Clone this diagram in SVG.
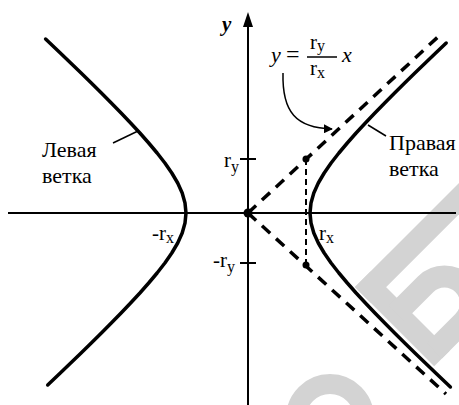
<svg xmlns="http://www.w3.org/2000/svg" width="459" height="405" viewBox="0 0 459 405">
<style>
.t{font-family:"Liberation Serif","Times New Roman",serif;fill:#000}
.lbl{font-size:22px}
.ax{font-size:21px}
.sub{font-size:16px}
.curve{fill:none;stroke:#000;stroke-width:3.5;stroke-linejoin:round;stroke-linecap:round}
.asym{fill:none;stroke:#000;stroke-width:3.5;stroke-dasharray:11 8}
.thin{fill:none;stroke:#000;stroke-width:1.5}
.axis{fill:none;stroke:#000;stroke-width:2}
.wm{fill:none;stroke:#d3d3d3}
</style>
<defs>
<marker id="ah" viewBox="0 0 10 10" refX="9" refY="5" markerWidth="9" markerHeight="9" markerUnits="userSpaceOnUse" orient="auto">
<path d="M0,0 L10,5 L0,10 z" fill="#000"/>
</marker>
</defs>
<rect width="459" height="405" fill="#fff"/>
<g id="watermark">
<g transform="rotate(-45)">
<rect x="48" y="454" width="160" height="22" fill="#d3d3d3"/>
<rect x="48" y="454" width="22" height="112" fill="#d3d3d3"/>
<path class="wm" stroke-width="22" d="M59,502 H100 A26.5,26.5 0 0 1 100,555 H59"/>
</g>
<circle class="wm" cx="330" cy="418" r="34" stroke-width="20"/>
</g>
<g id="axes">
<line class="axis" x1="8" y1="213" x2="456" y2="213"/>
<line class="axis" x1="248" y1="405" x2="248" y2="24"/>
<path d="M248,12 L243,27 L253,27 z" fill="#000"/>
<line class="axis" x1="240" y1="159" x2="256" y2="159"/>
<line class="axis" x1="240" y1="263" x2="256" y2="263"/>
</g>
<g id="connectors">
<line class="asym" x1="248" y1="213" x2="440" y2="35"/>
<line class="asym" x1="248" y1="213" x2="446" y2="394"/>
<line fill="none" stroke="#000" stroke-width="2" stroke-dasharray="6 4" x1="306" y1="159" x2="306" y2="265"/>
<path class="thin" d="M283,73 C282,112 296,128 332,129" marker-end="url(#ah)"/>
<line class="thin" x1="113" y1="143" x2="138" y2="131"/>
<line class="thin" x1="368" y1="125" x2="386" y2="136"/>
</g>
<g id="right-branch">
<polyline class="curve" points="446.2,43 435.7,53 425.3,63 414.9,73 404.7,83 394.6,93 384.7,103 374.9,113 365.4,123 356.1,133 347.3,143 338.9,153 331.1,163 324.2,173 318.3,183 313.8,193 311,203 310,213 311,223 313.8,233 318.3,243 324.2,253 331.1,263 338.9,273 347.3,283 356.1,293 365.4,303 374.9,313 384.7,323 394.6,333 404.7,343 414.9,353 425.3,363 435.7,373 446.2,383 450.4,387"/>
</g>
<g id="left-branch">
<polyline class="curve" points="45.6,39 49.8,43 60.3,53 70.7,63 81.1,73 91.3,83 101.4,93 111.3,103 121.1,113 130.6,123 139.9,133 148.7,143 157.1,153 164.9,163 171.8,173 177.7,183 182.2,193 185,203 186,213 185,223 182.2,233 177.7,243 171.8,253 164.9,263 157.1,273 148.7,283 139.9,293 130.6,303 121.1,313 111.3,323 101.4,333 91.3,343 81.1,353 70.7,363 60.3,373 49.8,383 47.7,385"/>
</g>
<g id="points">
<circle cx="248" cy="213" r="4.5" fill="#000"/>
<circle cx="306" cy="159" r="3.5" fill="#000"/>
<circle cx="306" cy="265" r="3.5" fill="#000"/>
</g>
<g id="labels">
<text class="t" x="222" y="31" font-size="21" font-weight="bold" font-style="italic">y</text>
<text class="t" x="271" y="62" font-size="22" font-style="italic">y</text>
<text class="t" x="286" y="62" font-size="24">=</text>
<text class="t ax" x="310" y="49">r<tspan class="sub" dy="2">y</tspan></text>
<line x1="307" y1="57" x2="337" y2="57" stroke="#000" stroke-width="1.5"/>
<text class="t ax" x="310" y="75">r<tspan class="sub" dy="3">x</tspan></text>
<text class="t" x="342" y="62" font-size="22" font-style="italic">x</text>
<text class="t ax" x="224" y="167">r<tspan class="sub" dy="5">y</tspan></text>
<text class="t ax" x="213" y="267">-r<tspan class="sub" dy="5">y</tspan></text>
<text class="t ax" x="152" y="240">-r<tspan class="sub" dy="3">x</tspan></text>
<text class="t ax" x="319" y="240">r<tspan class="sub" dy="3">x</tspan></text>
<text class="t lbl" x="42" y="157">Левая</text>
<text class="t lbl" x="42" y="183">ветка</text>
<text class="t lbl" x="389" y="150">Правая</text>
<text class="t lbl" x="389" y="176">ветка</text>
</g>
</svg>
